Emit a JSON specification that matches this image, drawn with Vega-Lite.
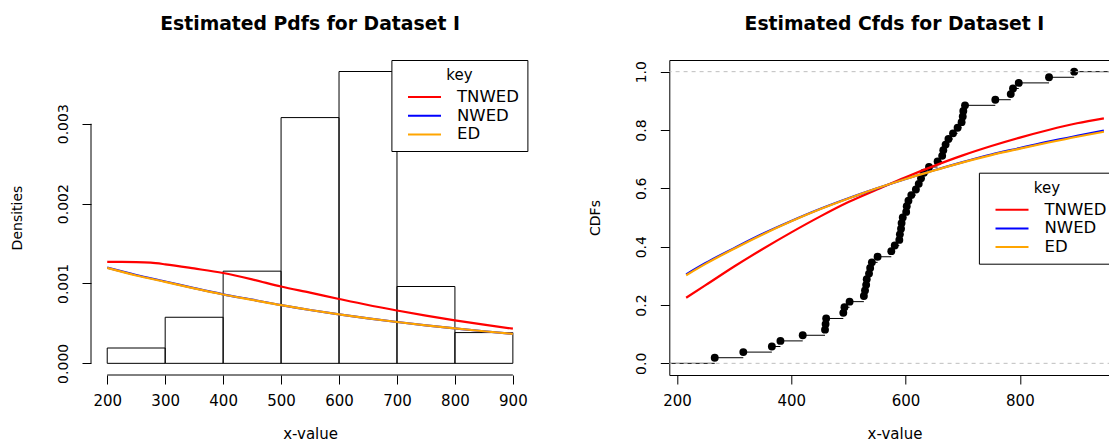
{
  "$schema": "https://vega.github.io/schema/vega-lite/v6.json",
  "background": "white",
  "padding": {"left": 10, "top": 14, "right": 0, "bottom": 0},
  "bounds": "flush",
  "spacing": 139.3,
  "resolve": {
    "scale": {"x": "independent", "y": "independent", "color": "independent"},
    "legend": {"color": "independent"}
  },
  "config": {
    "font": "DejaVu Sans",
    "view": {"stroke": null},
    "axis": {
      "grid": false,
      "domain": false,
      "labelFont": "DejaVu Sans",
      "labelFontSize": 15,
      "labelColor": "black",
      "titleFont": "DejaVu Sans",
      "titleFontSize": 15,
      "titleFontWeight": "normal",
      "titleColor": "black",
      "tickColor": "black",
      "tickSize": 9,
      "tickWidth": 1,
      "labelFlush": false,
      "labelOverlap": false
    },
    "axisX": {"labelPadding": 9, "titlePadding": 18},
    "axisY": {
      "labelAngle": 270,
      "labelAlign": "center",
      "labelBaseline": "bottom",
      "labelPadding": 12,
      "labelFontSize": 14,
      "titleFontSize": 14,
      "titlePadding": 32
    },
    "legend": {
      "titleAnchor": "middle",
      "titleFont": "DejaVu Sans",
      "titleFontSize": 15,
      "titleFontWeight": "normal",
      "titleColor": "black",
      "titlePadding": 6,
      "labelFont": "DejaVu Sans",
      "labelFontSize": 16.5,
      "labelColor": "black",
      "labelOffset": 15,
      "symbolType": "stroke",
      "symbolSize": 1089,
      "symbolStrokeWidth": 2,
      "symbolOffset": 7.6,
      "clipHeight": 16,
      "rowPadding": 1.7,
      "strokeColor": "black",
      "fillColor": "white",
      "padding": 8,
      "cornerRadius": 0
    },
    "title": {
      "font": "DejaVu Sans",
      "fontSize": 18.8,
      "fontWeight": "bold",
      "color": "black",
      "offset": 26,
      "anchor": "middle"
    }
  },
  "datasets": {
    "hist": [
      {"lo": 200, "hi": 300, "density": 0.000192},
      {"lo": 300, "hi": 400, "density": 0.000577},
      {"lo": 400, "hi": 500, "density": 0.001154},
      {"lo": 500, "hi": 600, "density": 0.003077},
      {"lo": 600, "hi": 700, "density": 0.003654},
      {"lo": 700, "hi": 800, "density": 0.000962},
      {"lo": 800, "hi": 900, "density": 0.000385}
    ],
    "pdf": [
      {"key": "TNWED", "x": 200, "d": 0.00127},
      {"key": "TNWED", "x": 225, "d": 0.00127},
      {"key": "TNWED", "x": 250, "d": 0.001268},
      {"key": "TNWED", "x": 275, "d": 0.00126},
      {"key": "TNWED", "x": 300, "d": 0.00124},
      {"key": "TNWED", "x": 350, "d": 0.001188},
      {"key": "TNWED", "x": 400, "d": 0.001131},
      {"key": "TNWED", "x": 450, "d": 0.001052},
      {"key": "TNWED", "x": 500, "d": 0.000962},
      {"key": "TNWED", "x": 550, "d": 0.000885},
      {"key": "TNWED", "x": 600, "d": 0.000806},
      {"key": "TNWED", "x": 650, "d": 0.00073},
      {"key": "TNWED", "x": 700, "d": 0.000662},
      {"key": "TNWED", "x": 750, "d": 0.000597},
      {"key": "TNWED", "x": 800, "d": 0.000538},
      {"key": "TNWED", "x": 850, "d": 0.000484},
      {"key": "TNWED", "x": 900, "d": 0.000434},
      {"key": "NWED", "x": 200, "d": 0.001198},
      {"key": "NWED", "x": 250, "d": 0.001106},
      {"key": "NWED", "x": 300, "d": 0.001025},
      {"key": "NWED", "x": 350, "d": 0.000942},
      {"key": "NWED", "x": 400, "d": 0.000864},
      {"key": "NWED", "x": 450, "d": 0.000797},
      {"key": "NWED", "x": 500, "d": 0.000729},
      {"key": "NWED", "x": 550, "d": 0.000668},
      {"key": "NWED", "x": 600, "d": 0.000613},
      {"key": "NWED", "x": 650, "d": 0.000564},
      {"key": "NWED", "x": 700, "d": 0.000518},
      {"key": "NWED", "x": 750, "d": 0.000475},
      {"key": "NWED", "x": 800, "d": 0.000438},
      {"key": "NWED", "x": 850, "d": 0.000402},
      {"key": "NWED", "x": 900, "d": 0.00037},
      {"key": "ED", "x": 200, "d": 0.001195},
      {"key": "ED", "x": 250, "d": 0.0011},
      {"key": "ED", "x": 300, "d": 0.00102},
      {"key": "ED", "x": 350, "d": 0.000938},
      {"key": "ED", "x": 400, "d": 0.000862},
      {"key": "ED", "x": 450, "d": 0.000795},
      {"key": "ED", "x": 500, "d": 0.000728},
      {"key": "ED", "x": 550, "d": 0.000668},
      {"key": "ED", "x": 600, "d": 0.000613},
      {"key": "ED", "x": 650, "d": 0.000564},
      {"key": "ED", "x": 700, "d": 0.000518},
      {"key": "ED", "x": 750, "d": 0.000475},
      {"key": "ED", "x": 800, "d": 0.000437},
      {"key": "ED", "x": 850, "d": 0.000402},
      {"key": "ED", "x": 900, "d": 0.00037}
    ],
    "cdf": [
      {"key": "TNWED", "x": 216, "F": 0.225},
      {"key": "TNWED", "x": 250, "F": 0.268},
      {"key": "TNWED", "x": 300, "F": 0.332},
      {"key": "TNWED", "x": 350, "F": 0.392},
      {"key": "TNWED", "x": 400, "F": 0.449},
      {"key": "TNWED", "x": 450, "F": 0.503},
      {"key": "TNWED", "x": 500, "F": 0.553},
      {"key": "TNWED", "x": 550, "F": 0.596},
      {"key": "TNWED", "x": 600, "F": 0.638},
      {"key": "TNWED", "x": 650, "F": 0.677},
      {"key": "TNWED", "x": 700, "F": 0.713},
      {"key": "TNWED", "x": 750, "F": 0.745},
      {"key": "TNWED", "x": 800, "F": 0.774},
      {"key": "TNWED", "x": 850, "F": 0.8},
      {"key": "TNWED", "x": 900, "F": 0.823},
      {"key": "TNWED", "x": 947, "F": 0.84},
      {"key": "NWED", "x": 216, "F": 0.305},
      {"key": "NWED", "x": 250, "F": 0.344},
      {"key": "NWED", "x": 300, "F": 0.395},
      {"key": "NWED", "x": 350, "F": 0.444},
      {"key": "NWED", "x": 400, "F": 0.488},
      {"key": "NWED", "x": 450, "F": 0.529},
      {"key": "NWED", "x": 500, "F": 0.566},
      {"key": "NWED", "x": 550, "F": 0.6},
      {"key": "NWED", "x": 600, "F": 0.632},
      {"key": "NWED", "x": 650, "F": 0.662},
      {"key": "NWED", "x": 700, "F": 0.69},
      {"key": "NWED", "x": 750, "F": 0.716},
      {"key": "NWED", "x": 800, "F": 0.738},
      {"key": "NWED", "x": 850, "F": 0.76},
      {"key": "NWED", "x": 900, "F": 0.78},
      {"key": "NWED", "x": 947, "F": 0.798},
      {"key": "ED", "x": 216, "F": 0.302},
      {"key": "ED", "x": 250, "F": 0.341},
      {"key": "ED", "x": 300, "F": 0.393},
      {"key": "ED", "x": 350, "F": 0.442},
      {"key": "ED", "x": 400, "F": 0.487},
      {"key": "ED", "x": 450, "F": 0.528},
      {"key": "ED", "x": 500, "F": 0.565},
      {"key": "ED", "x": 550, "F": 0.6},
      {"key": "ED", "x": 600, "F": 0.632},
      {"key": "ED", "x": 650, "F": 0.661},
      {"key": "ED", "x": 700, "F": 0.689},
      {"key": "ED", "x": 750, "F": 0.714},
      {"key": "ED", "x": 800, "F": 0.736},
      {"key": "ED", "x": 850, "F": 0.757},
      {"key": "ED", "x": 900, "F": 0.777},
      {"key": "ED", "x": 947, "F": 0.794}
    ],
    "ecdf": [
      {"x": 150, "xn": 266, "F": 0},
      {"x": 266, "xn": 316, "F": 0.0192},
      {"x": 316, "xn": 366, "F": 0.0385},
      {"x": 366, "xn": 381, "F": 0.0577},
      {"x": 381, "xn": 420, "F": 0.0769},
      {"x": 420, "xn": 459, "F": 0.0962},
      {"x": 459, "xn": 460, "F": 0.1154},
      {"x": 460, "xn": 461, "F": 0.1346},
      {"x": 461, "xn": 491, "F": 0.1538},
      {"x": 491, "xn": 493, "F": 0.1731},
      {"x": 493, "xn": 502, "F": 0.1923},
      {"x": 502, "xn": 527, "F": 0.2115},
      {"x": 527, "xn": 529, "F": 0.2308},
      {"x": 529, "xn": 531, "F": 0.25},
      {"x": 531, "xn": 532, "F": 0.2692},
      {"x": 532, "xn": 536, "F": 0.2885},
      {"x": 536, "xn": 538, "F": 0.3077},
      {"x": 538, "xn": 541, "F": 0.3269},
      {"x": 541, "xn": 551, "F": 0.3462},
      {"x": 551, "xn": 575, "F": 0.3654},
      {"x": 575, "xn": 581, "F": 0.3846},
      {"x": 581, "xn": 589, "F": 0.4038},
      {"x": 589, "xn": 590, "F": 0.4231},
      {"x": 590, "xn": 592, "F": 0.4423},
      {"x": 592, "xn": 593, "F": 0.4615},
      {"x": 593, "xn": 595, "F": 0.4808},
      {"x": 595, "xn": 601, "F": 0.5},
      {"x": 601, "xn": 602, "F": 0.5192},
      {"x": 602, "xn": 605, "F": 0.5385},
      {"x": 605, "xn": 610, "F": 0.5577},
      {"x": 610, "xn": 618, "F": 0.5769},
      {"x": 618, "xn": 623, "F": 0.5962},
      {"x": 623, "xn": 627, "F": 0.6154},
      {"x": 627, "xn": 632, "F": 0.6346},
      {"x": 632, "xn": 641, "F": 0.6538},
      {"x": 641, "xn": 656, "F": 0.6731},
      {"x": 656, "xn": 664, "F": 0.6923},
      {"x": 664, "xn": 666, "F": 0.7115},
      {"x": 666, "xn": 670, "F": 0.7308},
      {"x": 670, "xn": 675, "F": 0.75},
      {"x": 675, "xn": 683, "F": 0.7692},
      {"x": 683, "xn": 691, "F": 0.7885},
      {"x": 691, "xn": 698, "F": 0.8077},
      {"x": 698, "xn": 700, "F": 0.8269},
      {"x": 700, "xn": 701, "F": 0.8462},
      {"x": 701, "xn": 704, "F": 0.8654},
      {"x": 704, "xn": 757, "F": 0.8846},
      {"x": 757, "xn": 784, "F": 0.9038},
      {"x": 784, "xn": 788, "F": 0.9231},
      {"x": 788, "xn": 798, "F": 0.9423},
      {"x": 798, "xn": 851, "F": 0.9615},
      {"x": 851, "xn": 895, "F": 0.9808},
      {"x": 895, "xn": 1000, "F": 1}
    ]
  },
  "hconcat": [
    {
      "width": 438.1,
      "height": 315,
      "title": {"text": "Estimated Pdfs for Dataset I"},
      "layer": [
        {
          "data": {"name": "hist"},
          "mark": {"type": "rect", "fill": "transparent", "stroke": "black", "strokeWidth": 1},
          "encoding": {
            "x": {
              "field": "lo", "type": "quantitative", "title": "x-value",
              "scale": {"domain": [172, 928], "nice": false, "zero": false},
              "axis": {"values": [200, 300, 400, 500, 600, 700, 800, 900], "format": "d"}
            },
            "x2": {"field": "hi"},
            "y": {
              "field": "density", "type": "quantitative", "title": "Densities",
              "scale": {"domain": [-0.000146, 0.003798], "nice": false, "zero": false},
              "axis": {"values": [0, 0.001, 0.002, 0.003], "format": ".3f"}
            },
            "y2": {"datum": 0}
          }
        },
        {
          "data": {"values": [{}]},
          "mark": {"type": "rule", "color": "black", "strokeWidth": 1},
          "encoding": {
            "x": {"datum": 200, "type": "quantitative"},
            "x2": {"datum": 900},
            "y": {"datum": -0.000146, "type": "quantitative"}
          }
        },
        {
          "data": {"values": [{}]},
          "mark": {"type": "rule", "color": "black", "strokeWidth": 1},
          "encoding": {
            "x": {"datum": 172, "type": "quantitative"},
            "y": {"datum": 0, "type": "quantitative"},
            "y2": {"datum": 0.003}
          }
        },
        {
          "data": {"name": "pdf"},
          "transform": [{"filter": "datum.key === 'TNWED'"}],
          "mark": {"type": "line", "strokeWidth": 2.2, "interpolate": "monotone"},
          "encoding": {
            "x": {"field": "x", "type": "quantitative", "title": "x-value"},
            "y": {"field": "d", "type": "quantitative", "title": "Densities"},
            "color": {
              "field": "key", "type": "nominal",
              "scale": {"domain": ["TNWED", "NWED", "ED"], "range": ["#FF0000", "#0000FF", "#FFA500"]},
              "legend": {"title": "key", "orient": "none", "legendX": 300.4, "legendY": 0}
            }
          }
        },
        {
          "data": {"name": "pdf"},
          "transform": [{"filter": "datum.key === 'NWED'"}],
          "mark": {"type": "line", "strokeWidth": 2.2, "interpolate": "monotone"},
          "encoding": {
            "x": {"field": "x", "type": "quantitative", "title": "x-value"},
            "y": {"field": "d", "type": "quantitative", "title": "Densities"},
            "color": {"field": "key", "type": "nominal"}
          }
        },
        {
          "data": {"name": "pdf"},
          "transform": [{"filter": "datum.key === 'ED'"}],
          "mark": {"type": "line", "strokeWidth": 2.2, "interpolate": "monotone"},
          "encoding": {
            "x": {"field": "x", "type": "quantitative", "title": "x-value"},
            "y": {"field": "d", "type": "quantitative", "title": "Densities"},
            "color": {"field": "key", "type": "nominal"}
          }
        }
      ]
    },
    {
      "width": 450.3,
      "height": 315,
      "title": {"text": "Estimated Cfds for Dataset I"},
      "view": {"stroke": "black", "strokeWidth": 1},
      "layer": [
        {
          "data": {"name": "ecdf"},
          "mark": {"type": "rule", "color": "black", "strokeWidth": 1, "clip": true},
          "encoding": {
            "x": {
              "field": "x", "type": "quantitative", "title": "x-value",
              "scale": {"domain": [186.5, 974.5], "nice": false, "zero": false},
              "axis": {"values": [200, 400, 600, 800], "format": "d"}
            },
            "x2": {"field": "xn"},
            "y": {
              "field": "F", "type": "quantitative", "title": "CDFs",
              "scale": {"domain": [-0.04, 1.04], "nice": false, "zero": false},
              "axis": {"values": [0, 0.2, 0.4, 0.6, 0.8, 1], "format": ".1f"}
            }
          }
        },
        {
          "data": {"name": "ecdf"},
          "transform": [{"filter": "datum.F > 0"}],
          "mark": {"type": "circle", "color": "black", "size": 62, "opacity": 1},
          "encoding": {
            "x": {"field": "x", "type": "quantitative", "title": "x-value"},
            "y": {"field": "F", "type": "quantitative", "title": "CDFs"}
          }
        },
        {
          "data": {"values": [{}]},
          "mark": {"type": "rule", "color": "#BEBEBE", "strokeWidth": 1, "strokeDash": [4, 4]},
          "encoding": {"y": {"datum": 0, "type": "quantitative"}}
        },
        {
          "data": {"values": [{}]},
          "mark": {"type": "rule", "color": "#BEBEBE", "strokeWidth": 1, "strokeDash": [4, 4]},
          "encoding": {"y": {"datum": 1, "type": "quantitative"}}
        },
        {
          "data": {"name": "cdf"},
          "transform": [{"filter": "datum.key === 'TNWED'"}],
          "mark": {"type": "line", "strokeWidth": 2.2, "interpolate": "monotone"},
          "encoding": {
            "x": {"field": "x", "type": "quantitative", "title": "x-value"},
            "y": {"field": "F", "type": "quantitative", "title": "CDFs"},
            "color": {
              "field": "key", "type": "nominal",
              "scale": {"domain": ["TNWED", "NWED", "ED"], "range": ["#FF0000", "#0000FF", "#FFA500"]},
              "legend": {"title": "key", "orient": "none", "legendX": 309.6, "legendY": 112.7}
            }
          }
        },
        {
          "data": {"name": "cdf"},
          "transform": [{"filter": "datum.key === 'NWED'"}],
          "mark": {"type": "line", "strokeWidth": 2.2, "interpolate": "monotone"},
          "encoding": {
            "x": {"field": "x", "type": "quantitative", "title": "x-value"},
            "y": {"field": "F", "type": "quantitative", "title": "CDFs"},
            "color": {"field": "key", "type": "nominal"}
          }
        },
        {
          "data": {"name": "cdf"},
          "transform": [{"filter": "datum.key === 'ED'"}],
          "mark": {"type": "line", "strokeWidth": 2.2, "interpolate": "monotone"},
          "encoding": {
            "x": {"field": "x", "type": "quantitative", "title": "x-value"},
            "y": {"field": "F", "type": "quantitative", "title": "CDFs"},
            "color": {"field": "key", "type": "nominal"}
          }
        }
      ]
    }
  ]
}
